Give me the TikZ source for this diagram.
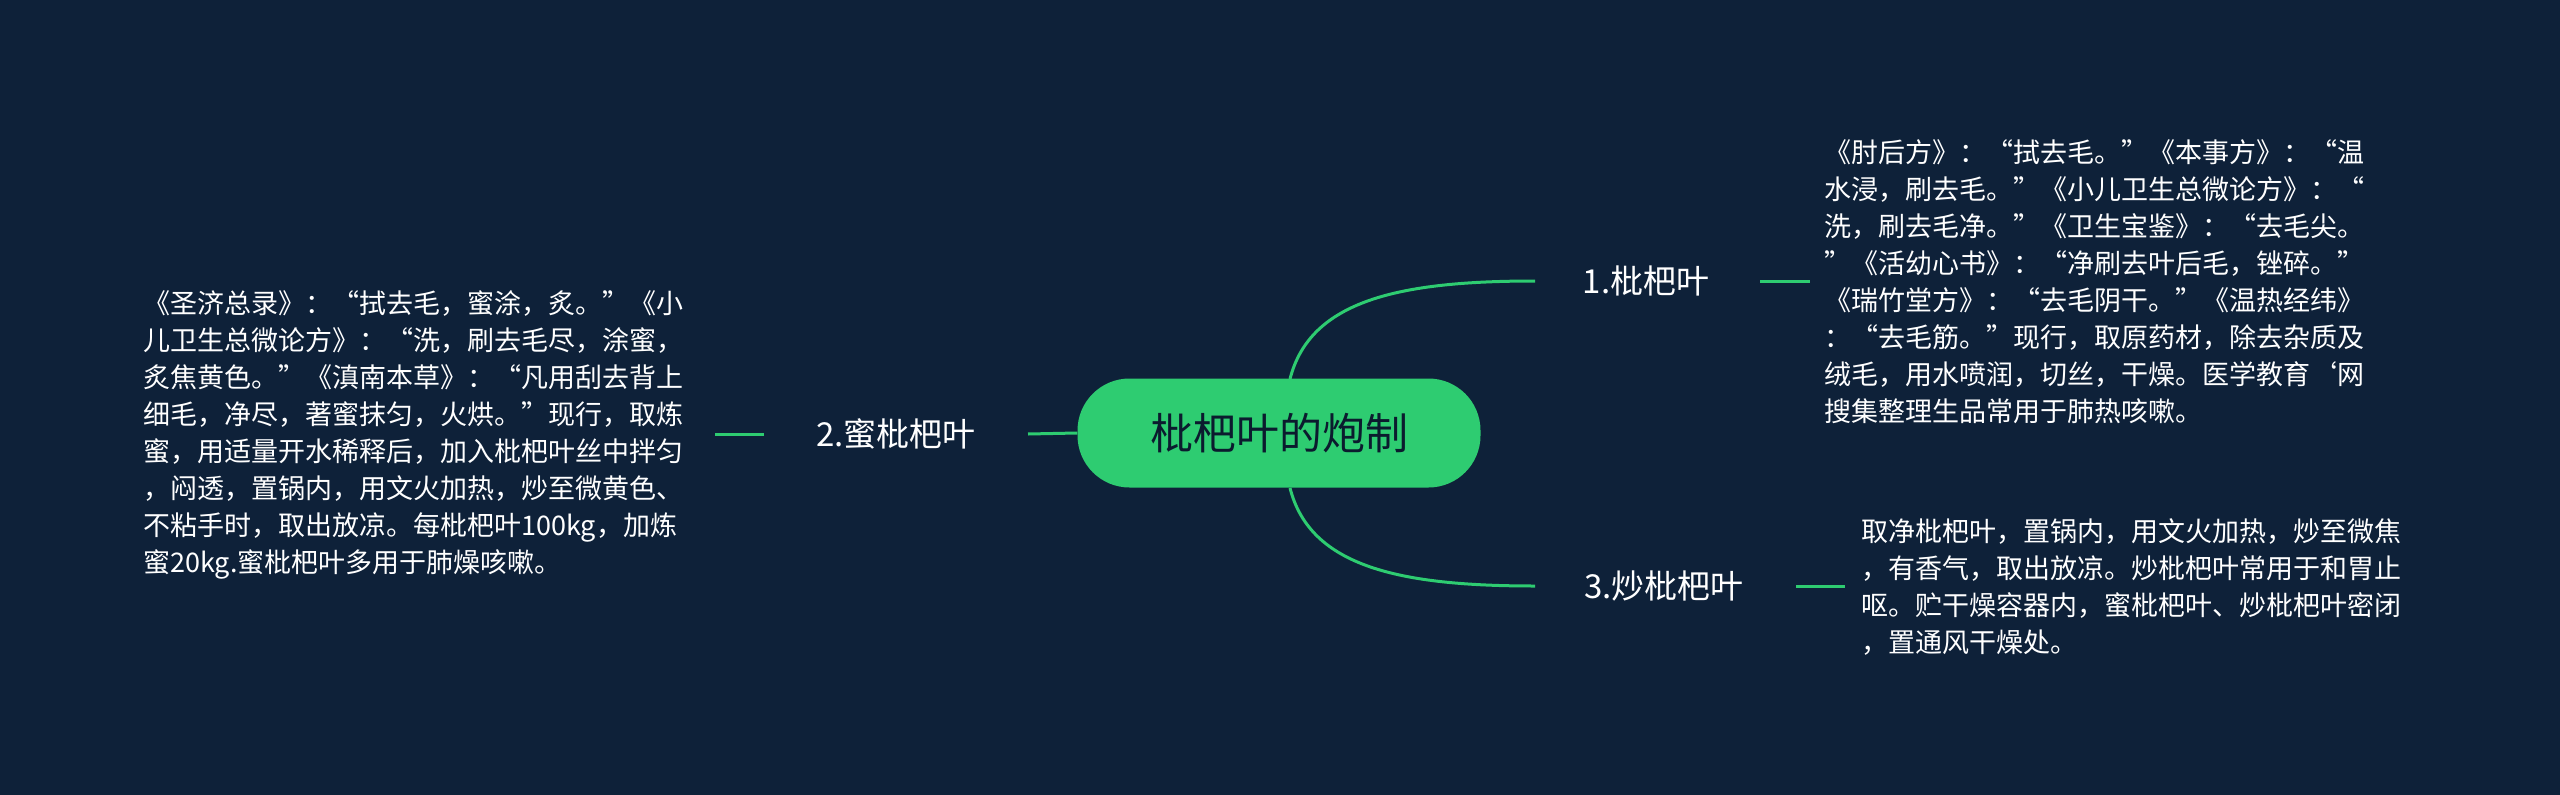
\documentclass[tikz,border=0pt]{standalone}
\usepackage{fontspec}
\setmainfont{Noto Sans CJK SC}
\definecolor{bg}{HTML}{0E2139}
\definecolor{gr}{HTML}{2ECC71}
\begin{document}
\begin{tikzpicture}[x=1pt,y=-1pt,
  conn/.style={gr,line width=3pt},
  lab/.style={text=white,font=\fontsize{33}{40}\selectfont,inner sep=0pt},
  para/.style={text=white,font=\fontsize{27}{37}\selectfont,align=left,inner sep=0pt,anchor=west}]
\fill[bg] (0,0) rectangle (2560,795);
\useasboundingbox (0,0) rectangle (2560,795);
\node[fill=gr,rounded corners=52pt,minimum width=403pt,minimum height=109pt,text=bg!80!black,font=\fontsize{43}{50}\selectfont] (c) at (1279,433) {枇杷叶的炮制};
\node[lab] (n1) at (1646,281) {1.枇杷叶};
\node[lab] (n2) at (896,434) {2.蜜枇杷叶};
\node[lab] (n3) at (1664,586) {3.炒枇杷叶};
\coordinate (a1) at (1535,281); \coordinate (b1) at (1760,281); \coordinate (e1) at (1810,281);
\coordinate (a3) at (1535,586); \coordinate (b3) at (1796,586); \coordinate (e3) at (1845,586);
\coordinate (a2) at (1028,434); \coordinate (b2) at (764,434); \coordinate (e2) at (715,434);
\draw[conn] (1290,379) .. controls (1310,300) and (1400,281) .. (a1);
\draw[conn] (1290,488) .. controls (1310,567) and (1400,586) .. (a3);
\draw[conn] (c.west) -- (a2);
\draw[conn] (b1) -- (e1);
\draw[conn] (b3) -- (e3);
\draw[conn] (b2) -- (e2);
\node[para] (t1) at (1824,282) {《肘后方》：“拭去毛。”《本事方》：“温\\水浸，刷去毛。”《小儿卫生总微论方》：“\\洗，刷去毛净。”《卫生宝鉴》：“去毛尖。\\”《活幼心书》：“净刷去叶后毛，锉碎。”\\《瑞竹堂方》：“去毛阴干。”《温热经纬》\\：“去毛筋。”现行，取原药材，除去杂质及\\绒毛，用水喷润，切丝，干燥。医学教育`网\\搜集整理生品常用于肺热咳嗽。};
\node[para] (t2) at (143,435) {《圣济总录》：“拭去毛，蜜涂，炙。”《小\\儿卫生总微论方》：“洗，刷去毛尽，涂蜜，\\炙焦黄色。”《滇南本草》：“凡用刮去背上\\细毛，净尽，著蜜抹匀，火烘。”现行，取炼\\蜜，用适量开水稀释后，加入枇杷叶丝中拌匀\\，闷透，置锅内，用文火加热，炒至微黄色、\\不粘手时，取出放凉。每枇杷叶100kg，加炼\\蜜20kg.蜜枇杷叶多用于肺燥咳嗽。};
\node[para] (t3) at (1861,587) {取净枇杷叶，置锅内，用文火加热，炒至微焦\\，有香气，取出放凉。炒枇杷叶常用于和胃止\\呕。贮干燥容器内，蜜枇杷叶、炒枇杷叶密闭\\，置通风干燥处。};
\end{tikzpicture}
\end{document}
